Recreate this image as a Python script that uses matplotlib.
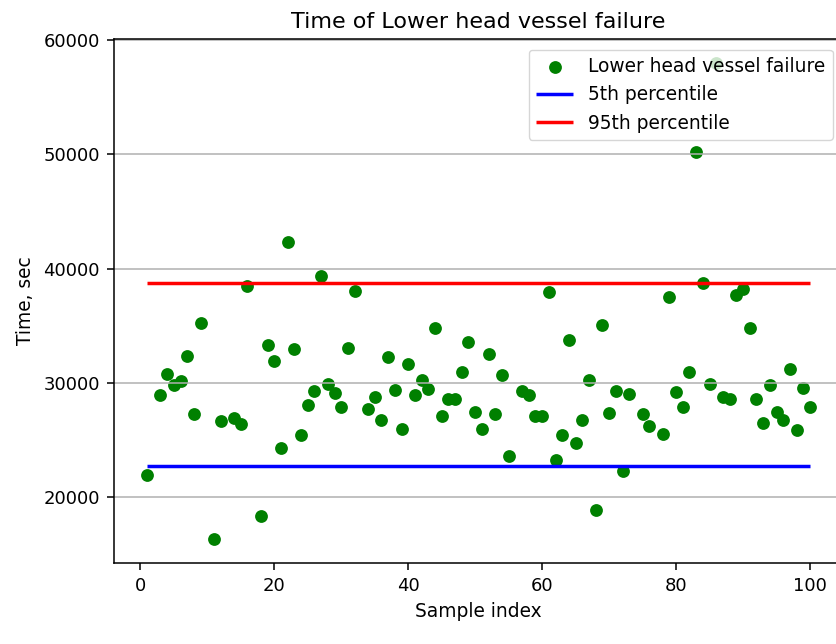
import matplotlib
matplotlib.use("Agg")
import matplotlib.pyplot as plt

# sample indices that have a failure time (some samples have none)
sample_idx = [1, 3, 4, 5, 6, 7, 8, 9, 11, 12, 14, 15, 16, 18, 19, 20,
              21, 22, 23, 24, 25, 26, 27, 28, 29, 30, 31, 32, 34, 35, 36, 37,
              38, 39, 40, 41, 42, 43, 44, 45, 46, 47, 48, 49, 50, 51, 52, 53,
              54, 55, 57, 58, 59, 60, 61, 62, 63, 64, 65, 66, 67, 68, 69, 70,
              71, 72, 73, 75, 76, 78, 79, 80, 81, 82, 83, 84, 85, 86, 87, 88,
              89, 90, 91, 92, 93, 94, 95, 96, 97, 98, 99, 100]
fail_time = [21960, 28900, 30800, 29830, 30120, 32370, 27240, 35200, 16330, 26650,
             26910, 26390, 38520, 18310, 33330, 31870,
             24260, 42340, 32950, 25460, 28080, 29280, 39370, 29890, 29130, 27850,
             33070, 38060, 27730, 28780, 26760, 32220,
             29390, 25950, 31640, 28900, 30240, 29480, 34760, 27120, 28570, 28570,
             30940, 33560, 27470, 25950, 32480, 27240,
             30680, 23560, 29280, 28900, 27120, 27120, 37940, 23240, 25460, 33770,
             24730, 26760, 30240, 18900, 35080, 27350,
             29280, 22250, 29040, 27260, 26220, 25480, 37500, 29180, 27880, 30960,
             50240, 38720, 29870, 57990, 28740, 28590,
             37710, 38240, 34840, 28590, 26460, 29780, 27410, 26760, 31200, 25870,
             29570, 27880]
p5 = 22750
p95 = 38700
x_first, x_last = 1, 100

fig = plt.figure(figsize=(8.36, 6.44), dpi=100)
ax = fig.add_axes([0.1362, 0.1262, 0.8724, 0.8127])

sc = ax.scatter(sample_idx, fail_time, s=85, color="green", linewidths=0,
                label="Lower head vessel failure")
l5 = ax.hlines(p5, x_first, x_last, colors="blue", linewidth=2.5, label="5th percentile")
l95 = ax.hlines(p95, x_first, x_last, colors="red", linewidth=2.5, label="95th percentile")

ax.set_title("Time of Lower head vessel failure", fontsize=16, pad=8)
ax.set_xlabel("Sample index", fontsize=13.4, labelpad=5)
ax.set_ylabel("Time, sec", fontsize=13.4, labelpad=6)
ax.set_xticks([0, 20, 40, 60, 80, 100])
ax.set_yticks([20000, 30000, 40000, 50000, 60000])
ax.tick_params(labelsize=13, length=5, width=1.1, pad=5)
for sp in ax.spines.values():
    sp.set_linewidth(1.1)
ax.grid(True, axis="y", color="#b0b0b0", linewidth=1.1)

ax.legend(handles=[sc, l5, l95], loc="upper right", fontsize=13.4,
          borderaxespad=0.55)

fig.savefig("out.png", dpi=100)
